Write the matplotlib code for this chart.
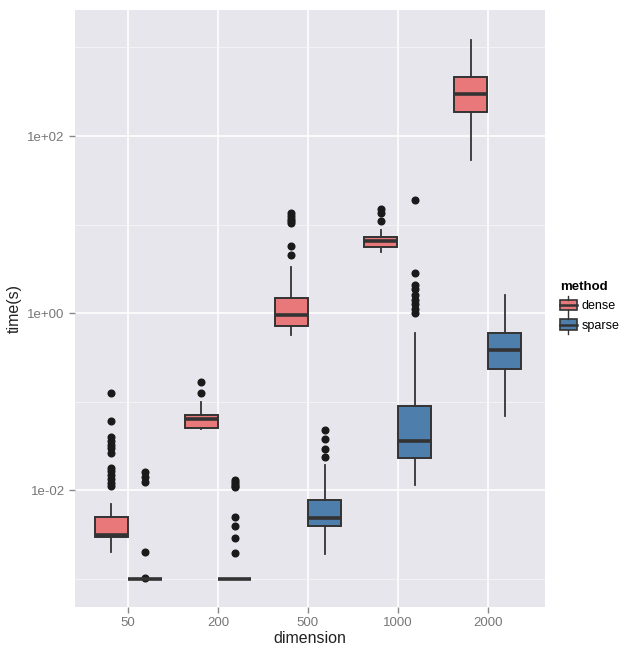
import numpy as np
import matplotlib
matplotlib.use("Agg")
import matplotlib.pyplot as plt
from matplotlib.patches import Rectangle
from matplotlib.lines import Line2D
from matplotlib.legend_handler import HandlerBase

plt.rcParams['font.family'] = ['Liberation Sans', 'DejaVu Sans']

# categorias do eixo x
dimensions = ['50', '200', '500', '1000', '2000']
methods = ['dense', 'sparse']
colors = {'dense': '#E8787A', 'sparse': '#4E7EAC'}

# estatísticas (tempo em segundos)
dense_q1 = [0.00295, 0.050, 0.72, 5.6, 186]
dense_med = [0.0031, 0.063, 0.95, 6.45, 302]
dense_q3 = [0.0050, 0.071, 1.47, 7.25, 468]
dense_lo = [0.0020, 0.049, 0.56, 4.9, 54]
dense_hi = [0.0069, 0.100, 3.3, 8.7, 1200]
dense_out = [
    [0.124, 0.060, 0.040, 0.036, 0.032, 0.030, 0.026, 0.018, 0.0166,
     0.0148, 0.0135, 0.012, 0.011],
    [0.166, 0.126],
    [13.5, 12.6, 11.7, 11.0, 10.5, 5.75, 4.5],
    [14.8, 13.5, 11.0],
    [],
]

sparse_q1 = [0.001, 0.00098, 0.0039, 0.023, 0.234]
sparse_med = [0.001, 0.00098, 0.0049, 0.036, 0.38]
sparse_q3 = [0.001, 0.00098, 0.0078, 0.089, 0.59]
sparse_lo = [0.001, 0.00098, 0.0019, 0.0115, 0.068]
sparse_hi = [0.001, 0.00098, 0.019, 0.59, 1.58]
sparse_out = [
    [0.0162, 0.0141, 0.0123, 0.0020, 0.00102],
    [0.0129, 0.0123, 0.0117, 0.0112, 0.0107, 0.0050, 0.0039, 0.0029, 0.00195],
    [0.048, 0.038, 0.0295, 0.0234],
    [19.0, 2.8, 2.1, 1.85, 1.6, 1.4, 1.25, 1.1, 1.0],
    [],
]

series = {
    'dense': (dense_q1, dense_med, dense_q3, dense_lo, dense_hi, dense_out),
    'sparse': (sparse_q1, sparse_med, sparse_q3, sparse_lo, sparse_hi, sparse_out),
}

line_col = '#333333'
panel_bg = '#E6E6EC'

fig = plt.figure(figsize=(6.26, 6.45), dpi=100)
ax = fig.add_axes([0.120, 0.059, 0.751, 0.925])
ax.set_facecolor(panel_bg)

pos = np.arange(1, len(dimensions) + 1)
width = 0.375
offsets = {'dense': -width / 2, 'sparse': width / 2}

for m in methods:
    q1, med, q3, lo, hi, out = series[m]
    stats = []
    for i in range(len(dimensions)):
        stats.append(dict(q1=q1[i], med=med[i], q3=q3[i], whislo=lo[i],
                          whishi=hi[i], fliers=out[i]))
    ax.bxp(stats, positions=pos + offsets[m], widths=width * 0.98,
           patch_artist=True, showcaps=False,
           boxprops=dict(facecolor=colors[m], edgecolor=line_col, linewidth=1.4),
           medianprops=dict(color=line_col, linewidth=2.6),
           whiskerprops=dict(color=line_col, linewidth=1.3),
           flierprops=dict(marker='o', markerfacecolor='#1a1a1a',
                           markeredgecolor='#1a1a1a', markersize=4.8),
           zorder=3)

ax.set_yscale('log')
ax.set_ylim(10 ** -3.32, 10 ** 3.42)
ax.set_xlim(0.41, 5.64)

ax.set_yticks([1e-2, 1, 1e2])
ax.set_yticklabels(['1e-02', '1e+00', '1e+02'])
ax.set_yticks([1e-3, 1e-1, 1e1, 1e3], minor=True)
ax.set_xticks(pos)
ax.set_xticklabels(dimensions)

ax.grid(True, which='major', color='white', linewidth=1.2, zorder=0)
ax.grid(True, which='minor', axis='y', color='#F6F6F8', linewidth=0.6, zorder=0)
ax.set_axisbelow(True)
ax.tick_params(which='minor', length=0, labelleft=False)
ax.tick_params(which='major', length=4, color='#888888', labelcolor='#777777',
               labelsize=9.5, width=1)
for s in ax.spines.values():
    s.set_visible(False)

ax.set_xlabel('dimension', fontsize=11.5, color='#222222', labelpad=1)
ax.set_ylabel('time(s)', fontsize=11.5, color='#222222', labelpad=4)


class BoxHandler(HandlerBase):
    def create_artists(self, legend, orig_handle, xdescent, ydescent,
                       width, height, fontsize, trans):
        c = orig_handle.get_facecolor()
        x0, y0 = -xdescent, -ydescent
        r = Rectangle((x0, y0 + height * 0.15), width, height * 0.7,
                      facecolor=c, edgecolor=line_col, linewidth=1.2,
                      transform=trans)
        med = Line2D([x0, x0 + width], [y0 + height / 2] * 2, color=line_col,
                     linewidth=1.8, transform=trans)
        w1 = Line2D([x0 + width / 2] * 2, [y0 - height * 0.1, y0 + height * 0.15],
                    color=line_col, linewidth=1, transform=trans)
        w2 = Line2D([x0 + width / 2] * 2, [y0 + height * 0.85, y0 + height * 1.1],
                    color=line_col, linewidth=1, transform=trans)
        return [r, med, w1, w2]


handles = [Rectangle((0, 0), 1, 1, facecolor=colors[m]) for m in methods]
leg = fig.legend(handles, methods, handler_map={Rectangle: BoxHandler()},
                 loc='upper left', bbox_to_anchor=(0.884, 0.574),
                 title='method', frameon=False, fontsize=9,
                 title_fontsize=9.5, handlelength=1.4, handleheight=1.5,
                 handletextpad=0.35, labelspacing=0.35, borderpad=0)
leg.get_title().set_fontweight('bold')
leg._legend_box.align = 'left'

fig.savefig('out.png', dpi=100)
